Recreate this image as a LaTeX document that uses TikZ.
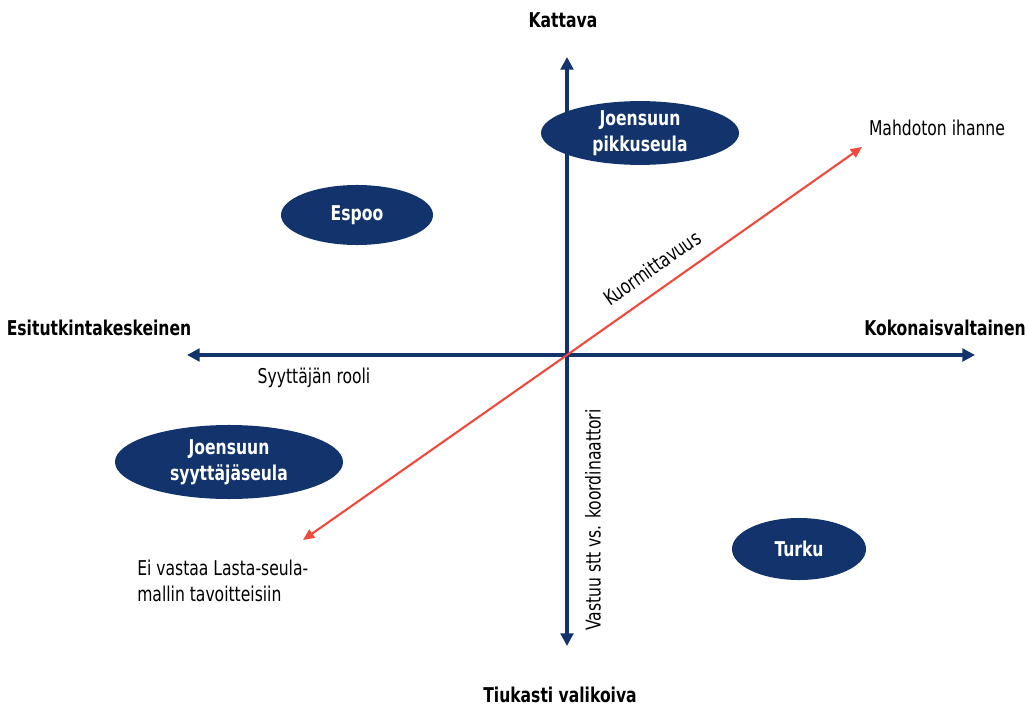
\documentclass[tikz,border=0pt]{standalone}
\usepackage{fontspec}
\setmainfont[FakeStretch=0.85]{DejaVu Sans Condensed}
\usetikzlibrary{arrows.meta,shapes.geometric}
\definecolor{navy}{HTML}{12336B}
\definecolor{redline}{HTML}{F04A3C}
\newcommand{\labelsize}{\fontsize{14.5}{18.5}\selectfont}
\tikzstyle{axis}=[-{Triangle[width=9pt,length=9pt]},line width=3pt,draw=navy]
\tikzstyle{trend}=[-{Triangle[width=7pt,length=8pt]},line width=1.5pt,draw=redline]
\tikzstyle{city}=[ellipse,fill=navy,text=white,font=\labelsize\bfseries,align=center,inner sep=0pt]
\tikzstyle{pole}=[font=\labelsize\bfseries]
\tikzstyle{note}=[font=\labelsize]

\begin{document}
\begin{tikzpicture}[x=0.025cm,y=-0.025cm]
  \useasboundingbox (0,0) rectangle (1025,709);
	\coordinate (o) at (567,355);
	\coordinate (top) at (567,57);
	\coordinate (bot) at (567,646);
	\coordinate (lft) at (187,355);
	\coordinate (rgt) at (975,355);
	\coordinate (lo) at (303,540);
	\coordinate (hi) at (862,147);

  \draw[axis] (o) -- (top);
  \draw[axis] (o) -- (bot);
  \draw[axis] (o) -- (lft);
  \draw[axis] (o) -- (rgt);
  \draw[trend] (o) -- (hi);
  \draw[trend] (o) -- (lo);

	\node[city,minimum width=4.95cm,minimum height=1.55cm] (pikku) at (640,133) {Joensuun\\pikkuseula};
	\node[city,minimum width=3.8cm,minimum height=1.5cm] (espoo) at (357,215) {Espoo};
	\node[city,minimum width=5.7cm,minimum height=1.85cm] (syyttaja) at (229,462) {Joensuun\\syyttäjäseula};
	\node[city,minimum width=3.35cm,minimum height=1.55cm] (turku) at (799,549) {Turku};

	\node[pole] (kattava) at (563,20) {Kattava};
	\node[pole] (tiukasti) at (560,695) {Tiukasti valikoiva};
	\node[pole] (esitutk) at (99,328) {Esitutkintakeskeinen};
	\node[pole] (kokon) at (945,328) {Kokonaisvaltainen};

	\node[note] (ihanne) at (937,128) {Mahdoton ihanne};
	\node[note] (rooli) at (314,378) {Syyttäjän rooli};
	\node[note,rotate=35.1] (kuorm) at (652,268) {Kuormittavuus};
	\node[note,rotate=90] (vastuu) at (593,520) {Vastuu stt vs. koordinaattori};
	\node[note,align=left,anchor=north west,inner sep=0pt] (eivastaa) at (137,560) {Ei vastaa Lasta-seula-\\mallin tavoitteisiin};
\end{tikzpicture}
\end{document}
